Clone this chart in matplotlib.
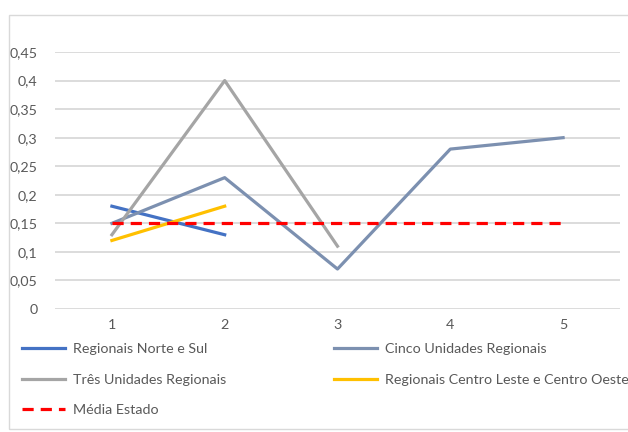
import matplotlib.pyplot as plt
from matplotlib.patches import Rectangle

plt.rcParams['font.family'] = ['Lato', 'DejaVu Sans']

# data
categorias = [1, 2, 3, 4, 5]
norte_sul = [0.18, 0.13]
cinco_unidades = [0.15, 0.23, 0.07, 0.28, 0.30]
tres_unidades = [0.13, 0.40, 0.11]
centro = [0.12, 0.18]
media_estado = [0.15, 0.15, 0.15, 0.15, 0.15]
yticks = [0, 0.05, 0.1, 0.15, 0.2, 0.25, 0.3, 0.35, 0.4, 0.45]
ylabels = ['0', '0,05', '0,1', '0,15', '0,2', '0,25', '0,3', '0,35', '0,4', '0,45']

fig = plt.figure(figsize=(6.28, 4.32), dpi=100)
fig.patches.append(Rectangle((9/628, 3/432), 1.2, 1 - 18/432, transform=fig.transFigure,
                             fill=False, edgecolor='#D9D9D9', linewidth=1))
ax = fig.add_axes([55.5/628, 1 - 309/432, 564/628, 257/432])

x = list(range(len(categorias)))
l1, = ax.plot(x[:len(norte_sul)], norte_sul, color='#4472C4', lw=2.3, label='Regionais Norte e Sul')
l2, = ax.plot(x, cinco_unidades, color='#7C90B0', lw=2.3, label='Cinco Unidades Regionais')
l3, = ax.plot(x[:len(tres_unidades)], tres_unidades, color='#A5A5A5', lw=2.3, label='Três Unidades Regionais')
l4, = ax.plot(x[:len(centro)], centro, color='#FFC000', lw=2.3, label='Regionais Centro Leste e Centro Oeste')
l5, = ax.plot(x, media_estado, color='#FF0000', lw=2.3, ls=(0, (3.5, 2.2)), label='Média Estado')

ax.set_xlim(-0.5, len(categorias) - 0.5)
ax.set_ylim(0, 0.45)
ax.set_xticks(x)
ax.set_xticklabels([str(c) for c in categorias])
ax.set_yticks(yticks)
ax.set_yticklabels(ylabels)
ax.grid(axis='y', color='#D9D9D9', lw=1.3)
ax.set_axisbelow(True)
for s in ax.spines.values():
    s.set_visible(False)
ax.tick_params(length=0, colors='#595959', labelsize=10.3)
ax.tick_params(axis='y', pad=13)
ax.tick_params(axis='x', pad=7)

fig.legend([l1, l3, l5, l2, l4], [h.get_label() for h in [l1, l3, l5, l2, l4]],
           loc='upper left', bbox_to_anchor=(22/628, 1 - 343/432), ncol=2,
           frameon=False, fontsize=10.3, labelcolor='#595959', handlelength=3.0,
           handletextpad=0.55, labelspacing=1.3, columnspacing=7.55, borderaxespad=0,
           borderpad=0)

fig.savefig('out.png', dpi=100)
